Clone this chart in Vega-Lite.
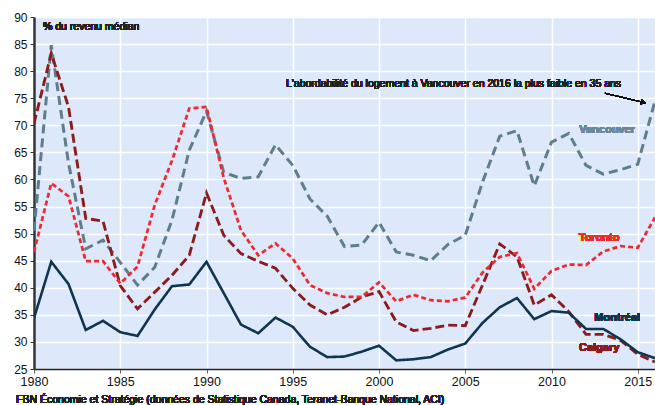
{
  "$schema": "https://vega.github.io/schema/vega-lite/v6.json",
  "width": 621,
  "height": 352,
  "autosize": {"type": "none"},
  "padding": {"left": 34, "top": 17, "right": 0, "bottom": 36},
  "background": "white",
  "config": {
    "font": "Arial",
    "view": {"fill": "#dde9fb", "stroke": null},
    "axis": {"labelOverlap": false, "labelFlush": false}
  },
  "data": {
    "values": [
      {"year": 1980, "Vancouver": 50.5, "Calgary": 70.3, "Toronto": 46.6, "Montréal": 34.4},
      {"year": 1981, "Vancouver": 84.8, "Calgary": 83.3, "Toronto": 59.3, "Montréal": 44.8},
      {"year": 1982, "Vancouver": 63.0, "Calgary": 73.4, "Toronto": 56.9, "Montréal": 40.7},
      {"year": 1983, "Vancouver": 47.2, "Calgary": 52.8, "Toronto": 44.9, "Montréal": 32.2},
      {"year": 1984, "Vancouver": 48.8, "Calgary": 52.3, "Toronto": 44.9, "Montréal": 33.9},
      {"year": 1985, "Vancouver": 44.7, "Calgary": 40.4, "Toronto": 40.8, "Montréal": 31.8},
      {"year": 1986, "Vancouver": 40.5, "Calgary": 36.1, "Toronto": 43.9, "Montréal": 31.1},
      {"year": 1987, "Vancouver": 43.8, "Calgary": 39.2, "Toronto": 55.3, "Montréal": 36.0},
      {"year": 1988, "Vancouver": 52.5, "Calgary": 42.3, "Toronto": 63.5, "Montréal": 40.3},
      {"year": 1989, "Vancouver": 65.4, "Calgary": 46.0, "Toronto": 73.1, "Montréal": 40.6},
      {"year": 1990, "Vancouver": 72.6, "Calgary": 57.5, "Toronto": 73.4, "Montréal": 44.8},
      {"year": 1991, "Vancouver": 61.3, "Calgary": 49.7, "Toronto": 60.3, "Montréal": 39.0},
      {"year": 1992, "Vancouver": 60.2, "Calgary": 46.3, "Toronto": 50.6, "Montréal": 33.2},
      {"year": 1993, "Vancouver": 60.5, "Calgary": 44.9, "Toronto": 46.0, "Montréal": 31.6},
      {"year": 1994, "Vancouver": 66.4, "Calgary": 43.6, "Toronto": 48.2, "Montréal": 34.5},
      {"year": 1995, "Vancouver": 62.6, "Calgary": 39.9, "Toronto": 45.4, "Montréal": 32.8},
      {"year": 1996, "Vancouver": 56.4, "Calgary": 36.8, "Toronto": 40.5, "Montréal": 29.1},
      {"year": 1997, "Vancouver": 53.2, "Calgary": 35.0, "Toronto": 39.0, "Montréal": 27.2},
      {"year": 1998, "Vancouver": 47.6, "Calgary": 36.4, "Toronto": 38.3, "Montréal": 27.3},
      {"year": 1999, "Vancouver": 47.9, "Calgary": 38.3, "Toronto": 38.3, "Montréal": 28.2},
      {"year": 2000, "Vancouver": 52.1, "Calgary": 39.3, "Toronto": 41.0, "Montréal": 29.3},
      {"year": 2001, "Vancouver": 46.6, "Calgary": 33.7, "Toronto": 37.5, "Montréal": 26.6},
      {"year": 2002, "Vancouver": 46.0, "Calgary": 32.1, "Toronto": 38.7, "Montréal": 26.8},
      {"year": 2003, "Vancouver": 45.0, "Calgary": 32.5, "Toronto": 37.7, "Montréal": 27.2},
      {"year": 2004, "Vancouver": 48.0, "Calgary": 33.1, "Toronto": 37.5, "Montréal": 28.6},
      {"year": 2005, "Vancouver": 49.7, "Calgary": 33.0, "Toronto": 38.2, "Montréal": 29.7},
      {"year": 2006, "Vancouver": 59.5, "Calgary": 40.5, "Toronto": 42.8, "Montréal": 33.5},
      {"year": 2007, "Vancouver": 68.0, "Calgary": 48.1, "Toronto": 45.7, "Montréal": 36.4},
      {"year": 2008, "Vancouver": 69.0, "Calgary": 45.7, "Toronto": 46.4, "Montréal": 38.1},
      {"year": 2009, "Vancouver": 58.8, "Calgary": 36.8, "Toronto": 39.8, "Montréal": 34.2},
      {"year": 2010, "Vancouver": 66.9, "Calgary": 38.7, "Toronto": 43.1, "Montréal": 35.7},
      {"year": 2011, "Vancouver": 68.5, "Calgary": 35.6, "Toronto": 44.3, "Montréal": 35.4},
      {"year": 2012, "Vancouver": 62.6, "Calgary": 31.4, "Toronto": 44.2, "Montréal": 32.4},
      {"year": 2013, "Vancouver": 61.0, "Calgary": 31.4, "Toronto": 46.7, "Montréal": 32.4},
      {"year": 2014, "Vancouver": 61.8, "Calgary": 30.3, "Toronto": 47.7, "Montréal": 30.5},
      {"year": 2015, "Vancouver": 62.8, "Calgary": 27.7, "Toronto": 47.4, "Montréal": 28.1},
      {"year": 2016, "Vancouver": 74.5, "Calgary": 26.3, "Toronto": 53.0, "Montréal": 27.0}
    ]
  },
  "layer": [
    {
      "transform": [{"fold": ["Vancouver", "Calgary", "Toronto", "Montréal"], "as": ["city", "v"]}],
      "mark": {"type": "line", "clip": true},
      "encoding": {
        "x": {
          "field": "year", "type": "quantitative",
          "scale": {"domain": [1980, 2016], "nice": false, "zero": false},
          "axis": {
            "values": [1980, 1985, 1990, 1995, 2000, 2005, 2010, 2015], "tickCount": 20,
            "format": "d", "title": null, "grid": true, "gridColor": "white", "gridWidth": 1.5,
            "domainColor": "#222", "domainWidth": 1.5, "tickColor": "#666", "tickSize": 4,
            "labelFontSize": 12.5, "labelFontWeight": "normal", "labelColor": "#111", "labelPadding": 2,
            "labelFlush": false, "labelOverlap": false
          }
        },
        "y": {
          "field": "v", "type": "quantitative",
          "scale": {"domain": [25, 90], "nice": false, "zero": false},
          "axis": {
            "values": [25, 30, 35, 40, 45, 50, 55, 60, 65, 70, 75, 80, 85, 90], "tickCount": 20,
            "format": "d",
            "title": null, "grid": true, "gridColor": "white", "gridWidth": 1.5,
            "domainColor": "#333", "domainWidth": 2.5, "tickColor": "#333", "tickSize": 4,
            "labelFontSize": 12, "labelFontWeight": "normal", "labelColor": "#111", "labelPadding": 3,
            "labelFlush": false, "labelOverlap": false
          }
        },
        "color": {
          "field": "city", "type": "nominal",
          "scale": {"domain": ["Vancouver", "Calgary", "Toronto", "Montréal"], "range": ["#5f7d8b", "#8c1c1c", "#ee2a30", "#0f3550"]},
          "legend": null
        },
        "strokeDash": {
          "field": "city", "type": "nominal",
          "scale": {"domain": ["Vancouver", "Calgary", "Toronto", "Montréal"], "range": [[9, 5], [9, 4], [5, 3], [1, 0]]},
          "legend": null
        },
        "strokeWidth": {
          "field": "city", "type": "nominal",
          "scale": {"domain": ["Vancouver", "Calgary", "Toronto", "Montréal"], "range": [3, 2.6, 2.6, 2.6]},
          "legend": null
        }
      }
    },
    {
      "mark": {"type": "text", "text": "% du revenu médian", "align": "left", "baseline": "middle", "fontSize": 10.5, "fontWeight": "normal", "color": "#222"},
      "encoding": {"x": {"datum": 1980.52}, "y": {"datum": 88.1}}
    },
    {
      "mark": {"type": "text", "text": "L'abordabilité du logement à Vancouver en 2016 la plus faible en 35 ans", "align": "center", "baseline": "middle", "fontSize": 10.5, "fontWeight": "normal", "color": "#222"},
      "encoding": {"x": {"datum": 2004.32}, "y": {"datum": 77.7}}
    },
    {
      "mark": {"type": "rule", "color": "#111", "strokeWidth": 1},
      "encoding": {"x": {"datum": 2013.1}, "y": {"datum": 75.92}, "x2": {"datum": 2015.3}, "y2": {"datum": 74.25}}
    },
    {
      "mark": {"type": "point", "shape": "triangle-right", "filled": true, "color": "#111", "size": 30, "angle": 13, "opacity": 1},
      "encoding": {"x": {"datum": 2015.33}, "y": {"datum": 74.22}}
    },
    {
      "mark": {"type": "text", "text": "Vancouver", "align": "center", "baseline": "middle", "fontSize": 11, "fontWeight": "bold", "color": "#6a8a99"},
      "encoding": {"x": {"datum": 2013.22}, "y": {"datum": 69.1}}
    },
    {
      "mark": {"type": "text", "text": "Toronto", "align": "center", "baseline": "middle", "fontSize": 11, "fontWeight": "bold", "color": "#ee2a30"},
      "encoding": {"x": {"datum": 2012.76}, "y": {"datum": 49.1}}
    },
    {
      "mark": {"type": "text", "text": "Montréal", "align": "center", "baseline": "middle", "fontSize": 11, "fontWeight": "bold", "color": "#0f3550"},
      "encoding": {"x": {"datum": 2013.81}, "y": {"datum": 34.35}}
    },
    {
      "mark": {"type": "text", "text": "Calgary", "align": "center", "baseline": "middle", "fontSize": 11, "fontWeight": "bold", "color": "#8c1c1c"},
      "encoding": {"x": {"datum": 2012.76}, "y": {"datum": 28.8}}
    },
    {
      "mark": {"type": "text", "text": "FBN Économie et Stratégie (données de Statistique Canada, Teranet-Banque National, ACI)", "align": "left", "baseline": "middle", "fontSize": 10.5, "fontWeight": "normal", "color": "#222"},
      "encoding": {"x": {"datum": 1978.96}, "y": {"datum": 19.3}}
    }
  ]
}
